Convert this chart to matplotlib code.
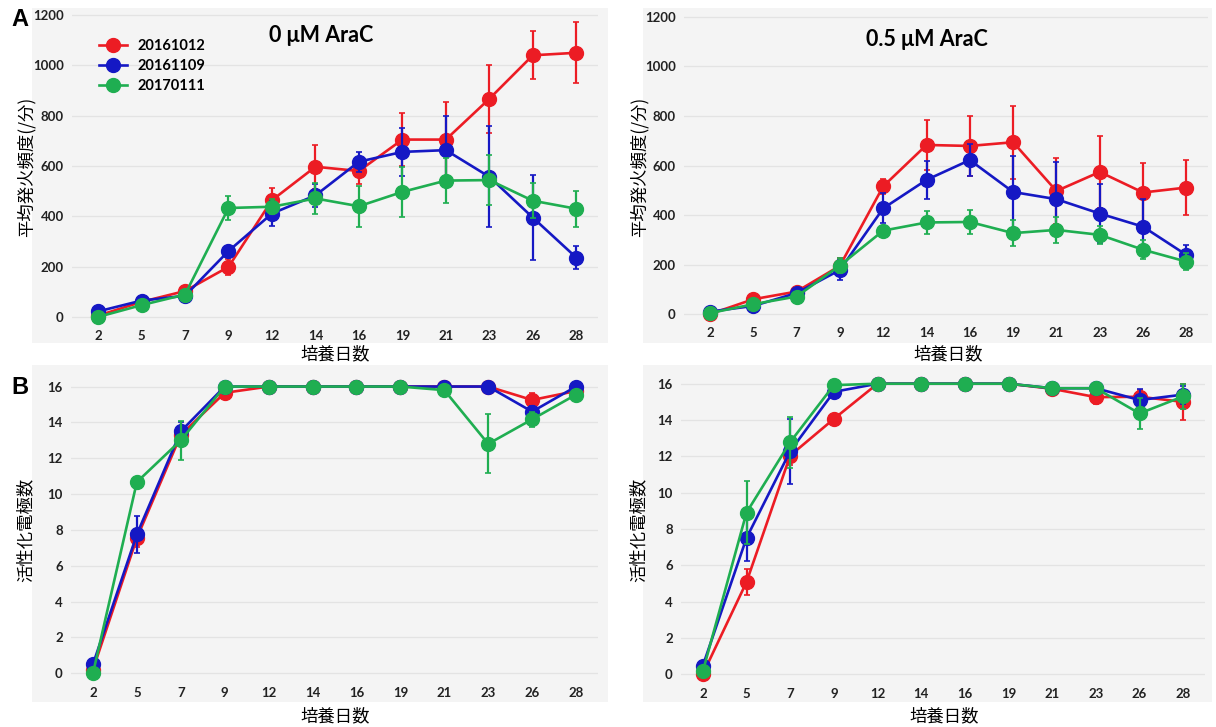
import matplotlib
matplotlib.use("Agg")
import matplotlib.pyplot as plt
from matplotlib.patches import Rectangle

plt.rcParams['font.family'] = ['Lato', 'Noto Sans CJK JP', 'DejaVu Sans']

W, H = 1216, 727

days = ['2', '5', '7', '9', '12', '14', '16', '19', '21', '23', '26', '28']
series = ['20161012', '20161109', '20170111']
colors = ['#ec1c24', '#1518c4', '#1fae51']

# A: mean firing rate, 0 uM AraC
a0_red = [5, 60, 103, 199, 464, 597, 580, 705, 705, 867, 1040, 1050]
a0_red_err = [3, 8, 12, 33, 50, 88, 50, 105, 150, 135, 95, 122]
a0_blue = [22, 65, 84, 262, 411, 483, 617, 656, 663, 557, 395, 236]
a0_blue_err = [5, 8, 10, 20, 50, 45, 40, 95, 135, 200, 168, 44]
a0_green = [0, 47, 89, 433, 438, 471, 440, 497, 542, 544, 462, 430]
a0_green_err = [2, 8, 10, 46, 30, 62, 82, 100, 88, 100, 70, 72]

# A: mean firing rate, 0.5 uM AraC
a5_red = [0, 60, 91, 195, 516, 683, 679, 694, 497, 574, 491, 511]
a5_red_err = [3, 8, 10, 30, 30, 100, 120, 148, 135, 145, 120, 110]
a5_blue = [10, 33, 85, 178, 427, 542, 622, 493, 464, 406, 353, 239]
a5_blue_err = [5, 6, 10, 42, 60, 77, 65, 147, 150, 118, 110, 40]
a5_green = [4, 40, 71, 196, 337, 370, 372, 327, 340, 320, 260, 212]
a5_green_err = [3, 6, 8, 30, 15, 47, 50, 53, 52, 35, 38, 35]

# B: active electrodes, 0 uM AraC
b0_red = [0.2, 7.55, 13.3, 15.65, 16, 16, 16, 16, 16, 16, 15.25, 15.75]
b0_red_err = [0.1, 0.5, 0.4, 0.1, 0, 0, 0, 0, 0, 0, 0.4, 0.2]
b0_blue = [0.5, 7.75, 13.5, 16, 16, 16, 16, 16, 16, 16, 14.6, 16]
b0_blue_err = [0.1, 1.05, 0.5, 0, 0, 0, 0, 0, 0, 0, 0.3, 0]
b0_green = [0, 10.67, 13.0, 16, 16, 16, 16, 16, 15.8, 12.8, 14.17, 15.55]
b0_green_err = [0, 0.2, 1.1, 0, 0, 0, 0, 0, 0.2, 1.65, 0.4, 0.2]

# B: active electrodes, 0.5 uM AraC
b5_red = [0, 5.07, 12.04, 14.06, 16, 16, 16, 16, 15.72, 15.26, 15.28, 15.0]
b5_red_err = [0, 0.7, 0.5, 0.2, 0, 0, 0, 0, 0.1, 0.4, 0.4, 1.0]
b5_blue = [0.46, 7.5, 12.28, 15.55, 16, 16, 16, 16, 15.75, 15.75, 15.1, 15.4]
b5_blue_err = [0.1, 1.25, 1.8, 0.2, 0, 0, 0, 0, 0.1, 0.1, 0.6, 0.5]
b5_green = [0.15, 8.9, 12.78, 15.92, 16, 16, 16, 16, 15.75, 15.75, 14.36, 15.3]
b5_green_err = [0.1, 1.75, 1.4, 0.1, 0, 0, 0, 0, 0.1, 0.1, 0.85, 0.7]

fig = plt.figure(figsize=(W / 100, H / 100), dpi=100)


def px_rect(left, top, right, bottom):
    return [left / W, 1 - bottom / H, (right - left) / W, (bottom - top) / H]


def gray_box(left, top, right, bottom):
    fig.patches.append(Rectangle((left / W, 1 - bottom / H), (right - left) / W, (bottom - top) / H,
                                 transform=fig.transFigure, facecolor='#f4f4f4', edgecolor='none', zorder=-10))


def panel(rect, xlim, ylim, yticks, data):
    ax = fig.add_axes(px_rect(*rect))
    ax.set_facecolor('none')
    x = list(range(len(days)))
    for (vals, errs), c, name in zip(data, colors, series):
        ax.errorbar(x, vals, yerr=errs, fmt='none', ecolor=c, elinewidth=1.6, capsize=2, capthick=1.2, zorder=3)
        ax.plot(x, vals, color=c, lw=1.9, marker='o', ms=10, label=name, zorder=3)
    ax.set_xlim(*xlim)
    ax.set_ylim(*ylim)
    ax.set_xticks(x)
    ax.set_xticklabels(days)
    ax.set_yticks(yticks)
    for s in ax.spines.values():
        s.set_visible(False)
    ax.tick_params(axis='y', length=0, labelsize=9.5, colors='#222222', pad=6)
    ax.tick_params(axis='x', length=0, labelsize=9.5, colors='#222222', pad=2)
    for t in ax.get_xticklabels() + ax.get_yticklabels():
        t.set_fontweight('bold')
    ax.yaxis.grid(True, color='#e3e3e3', lw=0.9)
    ax.set_axisbelow(True)
    return ax


gray_box(32, 8, 608, 343)
gray_box(643, 8, 1212, 343)
gray_box(32, 365, 608, 702)
gray_box(643, 365, 1212, 702)

ax1 = panel((72, 7.5, 598, 327), (-0.6, 11.5), (-40, 1230), range(0, 1201, 200),
            [(a0_red, a0_red_err), (a0_blue, a0_blue_err), (a0_green, a0_green_err)])
ax2 = panel((684, 9.5, 1208, 324), (-0.6, 11.5), (-40, 1230), range(0, 1201, 200),
            [(a5_red, a5_red_err), (a5_blue, a5_blue_err), (a5_green, a5_green_err)])
ax3 = panel((71, 374, 598, 684), (-0.5, 11.5), (-0.6, 16.7), range(0, 17, 2),
            [(b0_red, b0_red_err), (b0_blue, b0_blue_err), (b0_green, b0_green_err)])
ax4 = panel((681, 371, 1205, 685), (-0.5, 11.5), (-0.6, 16.7), range(0, 17, 2),
            [(b5_red, b5_red_err), (b5_blue, b5_blue_err), (b5_green, b5_green_err)])

cjk = ['Noto Sans CJK JP', 'DejaVu Sans']
fs_lab = 12.5
fig.text(335 / W, 1 - 354 / H, '培養日数', family=cjk, fontsize=fs_lab, ha='center', va='center')
fig.text(948 / W, 1 - 354 / H, '培養日数', family=cjk, fontsize=fs_lab, ha='center', va='center')
fig.text(335 / W, 1 - 716 / H, '培養日数', family=cjk, fontsize=fs_lab, ha='center', va='center')
fig.text(944 / W, 1 - 716 / H, '培養日数', family=cjk, fontsize=fs_lab, ha='center', va='center')

fig.text(26 / W, 1 - 167 / H, '平均発火頻度(/分)', family=cjk, fontsize=fs_lab, rotation=90, ha='center', va='center')
fig.text(639 / W, 1 - 167 / H, '平均発火頻度(/分)', family=cjk, fontsize=fs_lab, rotation=90, ha='center', va='center')
fig.text(26 / W, 1 - 530 / H, '活性化電極数', family=cjk, fontsize=fs_lab, rotation=90, ha='center', va='center')
fig.text(639 / W, 1 - 530 / H, '活性化電極数', family=cjk, fontsize=fs_lab, rotation=90, ha='center', va='center')

fig.text(321 / W, 1 - 35 / H, '0 μM AraC', fontsize=15.5, fontweight='bold', ha='center', va='center')
fig.text(927 / W, 1 - 40 / H, '0.5 μM AraC', fontsize=15.5, fontweight='bold', ha='center', va='center')

fig.text(20 / W, 1 - 19 / H, 'A', family='Liberation Sans', fontsize=17, fontweight='bold', ha='center', va='center')
fig.text(20 / W, 1 - 388 / H, 'B', family='Liberation Sans', fontsize=17, fontweight='bold', ha='center', va='center')

leg = ax1.legend(loc='upper left', bbox_to_anchor=(92 / W, 1 - 32 / H), bbox_transform=fig.transFigure,
                 frameon=False, handlelength=1.9, handletextpad=0.7, labelspacing=0.4, borderpad=0,
                 numpoints=1, prop={'size': 10.5, 'weight': 'bold'})

fig.savefig('out.png', dpi=100)
